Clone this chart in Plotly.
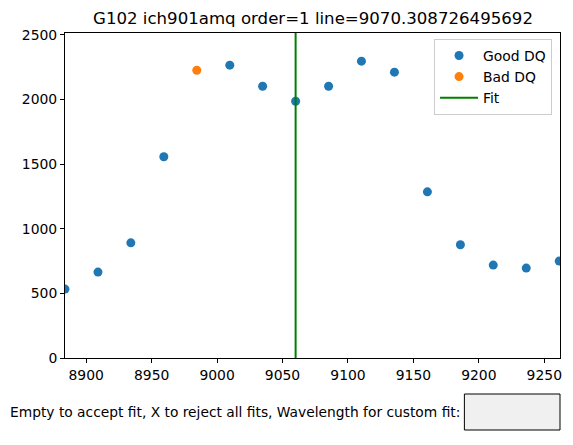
import plotly.graph_objects as go

# wavelength of each pixel and the flux values
wave = [8883.8, 8909.0, 8934.1, 8959.3, 8984.5, 9009.7, 9034.8, 9060.0,
        9085.2, 9110.3, 9135.5, 9160.7, 9185.9, 9211.0, 9236.2, 9261.4]
flux = [533, 665, 891, 1557, 2227, 2266, 2103, 1987,
        2103, 2297, 2212, 1286, 876, 719, 696, 750]
bad_dq = [False, False, False, False, True, False, False, False,
          False, False, False, False, False, False, False, False]
fit_wave = 9060.0
title = 'G102 ich901amq order=1 line=9070.308726495692'
prompt = 'Empty to accept fit, X to reject all fits, Wavelength for custom fit:'

x_ticks = [8900, 8950, 9000, 9050, 9100, 9150, 9200, 9250]
y_ticks = [0, 500, 1000, 1500, 2000, 2500]
y_top = 2515

good_x = [w for w, b in zip(wave, bad_dq) if not b]
good_y = [f for f, b in zip(flux, bad_dq) if not b]
bad_x = [w for w, b in zip(wave, bad_dq) if b]
bad_y = [f for f, b in zip(flux, bad_dq) if b]

font = 'DejaVu Sans, Liberation Sans, sans-serif'
fs = 13.9

# the page body adds an 8px offset, so the figure is sized to what is visible
W, H = 565, 437
L, R, T, B = 57, 11, 25, 87
pw, ph = W - L - R, H - T - B


def px_x(x):
    return (x - L) / pw


def px_y(y):
    return (H - B - y) / ph


fig = go.Figure()
fig.add_trace(go.Scatter(x=good_x, y=good_y, mode='markers', name='Good DQ',
                         marker=dict(color='#1f77b4', size=9)))
fig.add_trace(go.Scatter(x=bad_x, y=bad_y, mode='markers', name='Bad DQ',
                         marker=dict(color='#ff7f0e', size=9)))
fig.add_trace(go.Scatter(x=[fit_wave, fit_wave], y=[0, y_top], mode='lines', name='Fit',
                         line=dict(color='#008000', width=2)))

axis_style = dict(showline=True, linecolor='black', linewidth=1, mirror=True,
                  ticks='outside', ticklen=4, tickcolor='black', showgrid=False,
                  zeroline=False, tickfont=dict(size=fs, color='black'))
fig.update_xaxes(range=[wave[0], wave[-1] + 0.6], tickvals=x_ticks, **axis_style)
fig.update_yaxes(range=[0, y_top], tickvals=y_ticks, **axis_style)

fig.update_layout(
    width=W, height=H,
    margin=dict(l=L, r=R, t=T, b=B),
    paper_bgcolor='white', plot_bgcolor='white',
    font=dict(family=font, size=fs, color='black'),
    title=dict(text=title, x=(313 - 8) / W, xanchor='center', y=1 - 10 / H, yanchor='middle',
               font=dict(size=16.6, color='black')),
    legend=dict(x=px_x(554 - 8), y=px_y(39 - 8), xanchor='right', yanchor='top',
                bgcolor='rgba(255,255,255,0.8)', bordercolor='#cccccc', borderwidth=1,
                font=dict(size=fs), itemwidth=38, tracegroupgap=2),
    showlegend=True,
)

# text prompt and input box below the axes
fig.add_annotation(text=prompt, xref='paper', yref='paper', x=px_x(463 - 8), y=px_y(412 - 8),
                   xanchor='right', yanchor='middle', showarrow=False, font=dict(size=13.8),
                   borderpad=0)
fig.add_shape(type='rect', xref='paper', yref='paper',
              x0=px_x(466 - 8), x1=1.0, y0=px_y(394 - 8), y1=px_y(430 - 8),
              fillcolor='#f0f0f0', line=dict(color='black', width=1))

fig.write_html('out.html')
